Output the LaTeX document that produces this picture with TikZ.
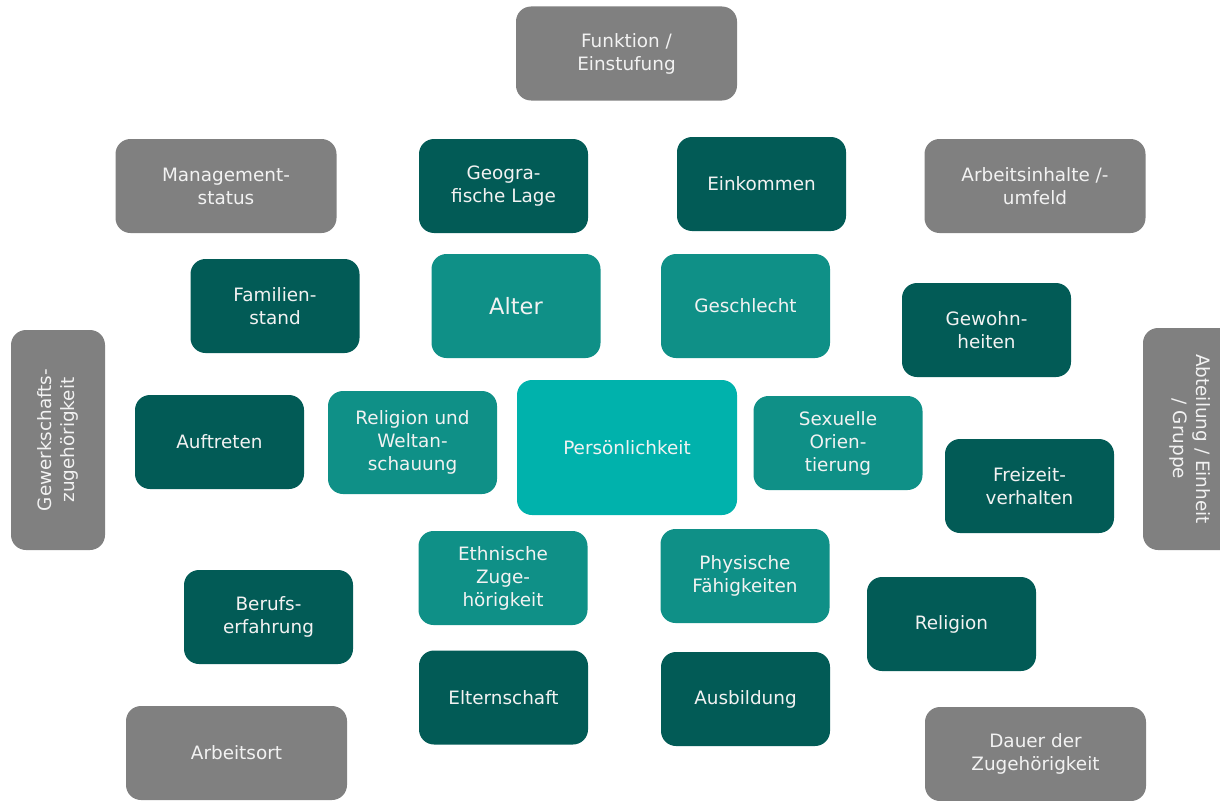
\documentclass[tikz,border=0pt]{standalone}
\usepackage{fontspec}
\setmainfont{DejaVu Sans}
\definecolor{cgray}{HTML}{808080}
\definecolor{cdark}{HTML}{025B56}
\definecolor{cmid}{HTML}{0F9087}
\definecolor{cbright}{HTML}{00B2AC}
\definecolor{ctext}{HTML}{F2F2F2}
\begin{document}
\begin{tikzpicture}[x=1pt,y=-1pt,
  box/.style={rounded corners=15pt, text=ctext, align=center, inner sep=0pt,
    font=\fontsize{18.4}{23}\selectfont},
  gbox/.style={box, fill=cgray, minimum width=221pt, minimum height=94pt},
  dbox/.style={box, fill=cdark, minimum width=169pt, minimum height=94pt},
  mbox/.style={box, fill=cmid, minimum width=169pt, minimum height=94pt},
  cbox/.style={box, fill=cbright, minimum width=220pt, minimum height=135pt}]
\useasboundingbox (0,0) rectangle (1220,800);
\clip (0,0) rectangle (1220,800);
% gray outer boxes
\node[gbox] (funk) at (626.5,53.5) {Funktion /\\Einstufung};
\node[gbox] (mgmt) at (226,186) {Management-\\status};
\node[gbox] (arbi) at (1035,186) {Arbeitsinhalte /-\\umfeld};
\node[gbox, minimum width=220pt, rotate=90] (gew) at (58,440) {Gewerkschafts-\\zugehörigkeit};
\node[gbox, minimum width=222pt, rotate=-90] (abt) at (1190,439) {Abteilung / Einheit\\/ Gruppe};
\node[gbox] (aort) at (236.5,753) {Arbeitsort};
\node[gbox] (dauer) at (1035.5,754) {Dauer der\\Zugehörigkeit};
% dark boxes
\node[dbox] (geo) at (503.5,186) {Geogra-\\fische Lage};
\node[dbox] (eink) at (761.5,184) {Einkommen};
\node[dbox] (fam) at (275,306) {Familien-\\stand};
\node[dbox] (gewo) at (986.5,330) {Gewohn-\\heiten};
\node[dbox] (auft) at (219.5,442) {Auftreten};
\node[dbox] (frei) at (1029.5,486) {Freizeit-\\verhalten};
\node[dbox] (beruf) at (268.5,617) {Berufs-\\erfahrung};
\node[dbox] (relg) at (951.5,624) {Religion};
\node[dbox] (elt) at (503.5,697.5) {Elternschaft};
\node[dbox] (ausb) at (745.5,699) {Ausbildung};
% medium boxes
\node[mbox, minimum height=104pt, font=\fontsize{22.5}{26}\selectfont] (alter) at (516,306) {Alter};
\node[mbox, minimum height=104pt] (geschl) at (745.5,306) {Geschlecht};
\node[mbox, minimum height=103pt] (relw) at (412.5,442.5) {Religion und\\Weltan-\\schauung};
\node[mbox] (sex) at (838,443) {Sexuelle\\Orien-\\tierung};
\node[mbox] (eth) at (503,578) {Ethnische\\Zuge-\\hörigkeit};
\node[mbox] (phys) at (745,576) {Physische\\Fähigkeiten};
% center
\node[cbox] (pers) at (627,447.5) {Persönlichkeit};
\end{tikzpicture}
\end{document}
